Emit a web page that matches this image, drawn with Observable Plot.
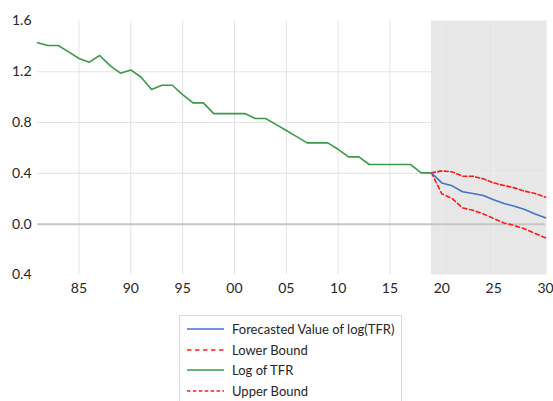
<!DOCTYPE html>
<html>
<head>
<meta charset="utf-8">
<script src="https://cdn.jsdelivr.net/npm/d3@7"></script>
<script src="https://cdn.jsdelivr.net/npm/@observablehq/plot@0.6"></script>
<style>
  html, body { margin: 0; padding: 0; background: #fff; }
  body { width: 553px; height: 401px; overflow: hidden; font-family: Lato, "Open Sans", sans-serif; }
  #legend { position: absolute; left: 179px; top: 315px; width: 223px; height: 100px;
    border: 1px solid #d9d9d9; box-sizing: border-box; background: #fff; }
  .row { position: absolute; left: 7px; height: 20px; display: flex; align-items: center;
    font-size: 13px; color: #262626; white-space: nowrap; }
  .row svg { margin-right: 8px; }
</style>
</head>
<body>
<div id="chart"></div>
<div id="legend"></div>
<script>
// Historical log(TFR)
const histYears = [1981,1982,1983,1984,1985,1986,1987,1988,1989,1990,1991,1992,1993,1994,1995,1996,1997,1998,1999,2000,2001,2002,2003,2004,2005,2006,2007,2008,2009,2010,2011,2012,2013,2014,2015,2016,2017,2018,2019];
const logTFR = [1.428,1.407,1.407,1.357,1.305,1.276,1.328,1.249,1.189,1.215,1.157,1.06,1.094,1.094,1.021,0.955,0.955,0.871,0.871,0.871,0.871,0.832,0.832,0.786,0.738,0.69,0.64,0.64,0.64,0.59,0.53,0.53,0.47,0.47,0.47,0.47,0.47,0.404,0.404];
// Forecast
const fcYears = [2019,2020,2021,2022,2023,2024,2025,2026,2027,2028,2029,2030];
const forecast = [0.404,0.325,0.302,0.255,0.242,0.226,0.192,0.163,0.142,0.115,0.081,0.05];
const lowerBound = [0.404,0.239,0.202,0.128,0.11,0.081,0.045,0.01,-0.01,-0.037,-0.073,-0.108];
const upperBound = [0.404,0.42,0.412,0.378,0.378,0.357,0.325,0.305,0.286,0.26,0.242,0.213];
// Axis ticks
const xTicks = [1985,1990,1995,2000,2005,2010,2015,2020,2025,2030];
const xTickLabels = ["85","90","95","00","05","10","15","20","25","30"];
const yTicks = [-0.4,0,0.4,0.8,1.2,1.6];
const yTickLabels = ["0.4","0.0","0.4","0.8","1.2","1.6"];
const shadeRange = [2019, 2030];
const seriesNames = ["Forecasted Value of log(TFR)","Lower Bound","Log of TFR","Upper Bound"];

const hist = histYears.map((y,i) => ({year:y, v:logTFR[i]}));
const fc = fcYears.map((y,i) => ({year:y, v:forecast[i]}));
const lo = fcYears.map((y,i) => ({year:y, v:lowerBound[i]}));
const up = fcYears.map((y,i) => ({year:y, v:upperBound[i]}));

const GREEN = "#3a9a4a", BLUE = "#4472c4", RED = "#ff1a1a";
const xFmt = d => xTickLabels[xTicks.indexOf(d)];
const yFmt = d => yTickLabels[yTicks.findIndex(t => Math.abs(t - d) < 1e-9)];

const chart = Plot.plot({
  width: 553,
  height: 305,
  marginLeft: 37,
  marginRight: 8,
  marginTop: 20.5,
  marginBottom: 30.5,
  style: {fontFamily: "Lato, 'Open Sans', sans-serif", fontSize: "14px", color: "#262626", background: "#fff"},
  x: {domain: [1981, 2030], label: null},
  y: {domain: [-0.4, 1.6], label: null},
  marks: [
    Plot.gridX(xTicks.filter(t => t < shadeRange[0]), {stroke: "#e3e3e3", strokeOpacity: 1, strokeWidth: 1}),
    Plot.gridY([0.4, 0.8, 1.2], {stroke: "#e3e3e3", strokeOpacity: 1, strokeWidth: 1}),
    Plot.rectX([{x1: shadeRange[0], x2: shadeRange[1]}], {x1: "x1", x2: "x2", y1: -0.4, y2: 1.6, fill: "#e7e7e7", insetRight: -1.5}),
    Plot.gridX(xTicks.filter(t => t > shadeRange[0] && t < shadeRange[1]), {stroke: "#eeeeee", strokeOpacity: 1, strokeWidth: 1}),
    Plot.gridY([0.4], {x1: 2019, x2: 2030, stroke: "#eeeeee", strokeOpacity: 1}),
    Plot.ruleY([0], {stroke: "#c6c6c6", strokeWidth: 2}),
    Plot.axisX({ticks: xTicks, tickSize: 0, tickPadding: 8, tickFormat: xFmt, label: null}),
    Plot.axisY({ticks: yTicks, tickSize: 0, tickPadding: 6, tickFormat: yFmt, label: null}),
    Plot.line(hist, {x: "year", y: "v", stroke: GREEN, strokeWidth: 1.6}),
    Plot.line(up, {x: "year", y: "v", stroke: RED, strokeWidth: 1.6, strokeDasharray: "4,2.5"}),
    Plot.line(lo, {x: "year", y: "v", stroke: RED, strokeWidth: 1.6, strokeDasharray: "4,3"}),
    Plot.line(fc, {x: "year", y: "v", stroke: BLUE, strokeWidth: 1.6})
  ]
});
document.getElementById("chart").appendChild(chart);

const legendStyles = [
  {stroke: BLUE, dash: null},
  {stroke: RED, dash: "4.5,3.5"},
  {stroke: GREEN, dash: null},
  {stroke: RED, dash: "3.5,2.4"}
];
const legend = document.getElementById("legend");
seriesNames.forEach((name, i) => {
  const row = document.createElement("div");
  row.className = "row";
  row.style.top = (3 + i * 20.6) + "px";
  const s = legendStyles[i];
  row.innerHTML = `<svg width="37" height="4"><line x1="0" x2="37" y1="2" y2="2" stroke="${s.stroke}" stroke-width="1.6" ${s.dash ? `stroke-dasharray="${s.dash}"` : ""}/></svg><span>${name}</span>`;
  legend.appendChild(row);
});
</script>
</body>
</html>
